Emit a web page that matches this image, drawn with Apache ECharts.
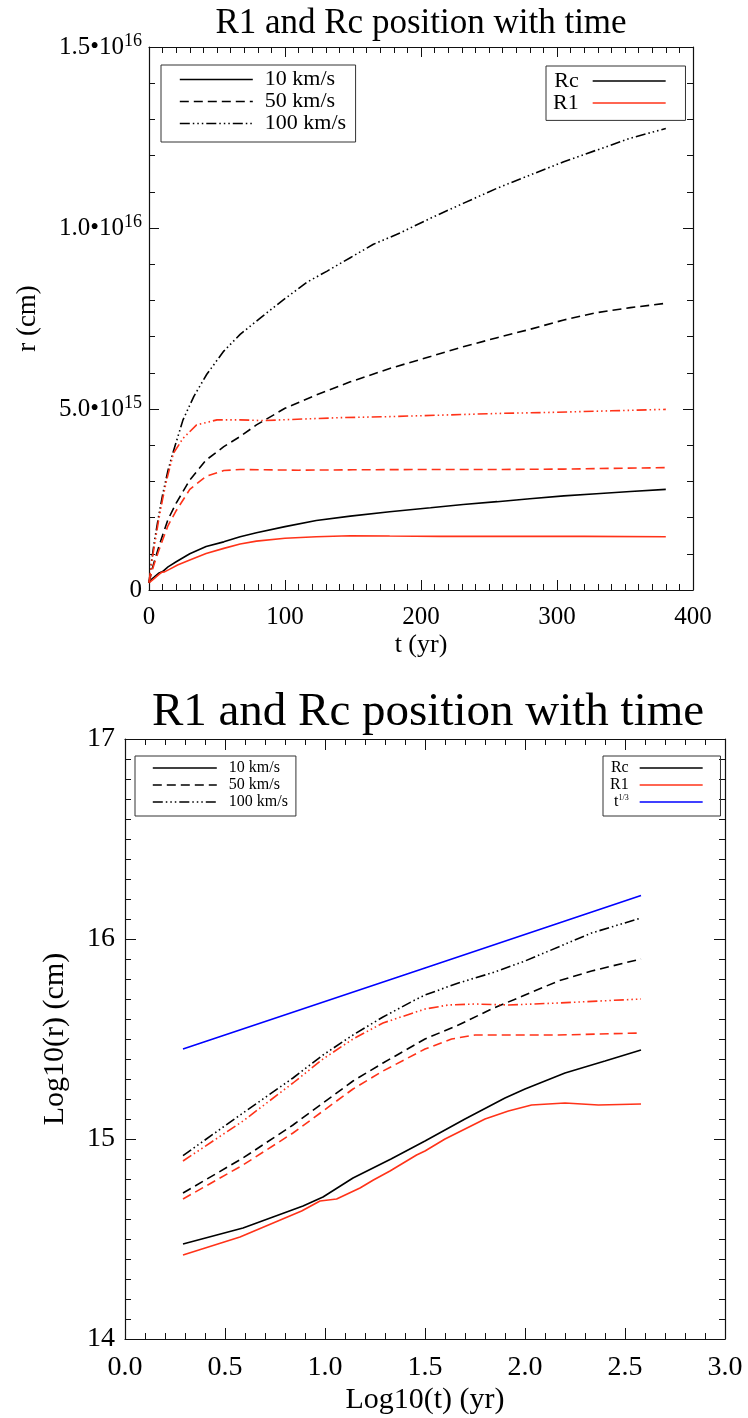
<!DOCTYPE html>
<html><head><meta charset="utf-8">
<script src="https://cdn.jsdelivr.net/npm/echarts@6/dist/echarts.min.js"></script>
<style>html,body{margin:0;padding:0;background:#fff}#c{width:748px;height:1418px}</style>
</head><body><div id="c"></div>
<script>
// ---------------- data ----------------
// Top panel: t (yr) vs r (units of 1e15 cm)
const tTopRc10  = [0,2,4,7,10,14,20,30,42,55,67,79,100,123,148,177,207,231,256,280,305,329,354,380];
const rTopRc10  = [0.2,0.30,0.36,0.46,0.51,0.64,0.78,1.00,1.20,1.33,1.47,1.58,1.75,1.92,2.04,2.16,2.27,2.36,2.44,2.52,2.60,2.66,2.72,2.78];
const tTopR110  = [0,2,4,7.6,9.4,11.4,15,21,30,42,55,67,79,100,123,148,177,214,260,320,380];
const rTopR110  = [0.2,0.26,0.32,0.44,0.49,0.50,0.57,0.69,0.83,1.01,1.15,1.27,1.35,1.43,1.47,1.50,1.49,1.48,1.48,1.48,1.47];
const tTopRc50  = [0,2,4,7,10,14,20,30,42,55,67,79,100,123,148,177,207,231,256,280,305,329,354,380];
const rTopRc50  = [0.2,0.54,0.80,1.17,1.51,1.95,2.40,3.04,3.59,3.96,4.24,4.56,5.02,5.39,5.75,6.12,6.45,6.72,6.97,7.20,7.46,7.66,7.80,7.92];
const tTopR150  = [0,2,4,7,10,14,20,30,42,55,67,85,110,150,207,260,305,340,380];
const rTopR150  = [0.2,0.50,0.74,1.07,1.38,1.78,2.19,2.78,3.14,3.30,3.33,3.32,3.31,3.32,3.33,3.33,3.34,3.36,3.38];
const tTopRc100 = [0,2,4,7,10,14,18,25,33,42.5,55,67,82,99,116,131,148,165,185,207,231,256,280,305,329,354,380];
const rTopRc100 = [0.2,0.83,1.35,2.02,2.63,3.31,3.84,4.70,5.35,5.96,6.60,7.06,7.52,8.02,8.50,8.81,9.18,9.55,9.87,10.27,10.68,11.10,11.46,11.83,12.15,12.48,12.75];
const tTopR1100 = [0,2,4,7,10,13,18,25,35,50,67,84,104,140,177,214,260,300,340,380];
const rTopR1100 = [0.2,0.78,1.23,1.91,2.51,3.04,3.78,4.19,4.56,4.70,4.70,4.68,4.71,4.76,4.79,4.83,4.88,4.91,4.95,4.99];

// Bottom panel: log10(t) vs log10(r)
const ltRc10  = [0.29,0.59,0.89,0.99,1.14,1.24,1.33,1.5,1.7,1.9,2.0,2.2,2.4,2.58];
const lrRc10  = [14.475,14.555,14.665,14.71,14.805,14.855,14.9,14.99,15.10,15.205,15.25,15.33,15.39,15.445];
const ltR110  = [0.29,0.575,0.883,0.975,1.058,1.175,1.242,1.325,1.458,1.5,1.6,1.7,1.8,1.917,2.033,2.2,2.367,2.58];
const lrR110  = [14.42,14.51,14.64,14.69,14.70,14.755,14.795,14.84,14.92,14.94,15.0,15.05,15.10,15.14,15.17,15.18,15.17,15.175];
const ltRc50  = [0.29,0.59,0.84,0.99,1.14,1.29,1.5,1.667,1.833,2.0,2.167,2.333,2.58];
const lrRc50  = [14.73,14.905,15.07,15.18,15.29,15.38,15.50,15.57,15.65,15.72,15.79,15.84,15.90];
const ltR150  = [0.29,0.59,0.84,0.99,1.14,1.29,1.5,1.633,1.75,1.917,2.167,2.58];
const lrR150  = [14.70,14.87,15.03,15.14,15.25,15.34,15.45,15.50,15.52,15.52,15.52,15.53];
const ltRc100 = [0.29,0.59,0.84,0.99,1.14,1.29,1.44,1.5,1.667,1.833,2.0,2.167,2.333,2.58];
const lrRc100 = [14.917,15.13,15.305,15.42,15.52,15.61,15.69,15.72,15.78,15.83,15.89,15.96,16.03,16.105];
const ltR1100 = [0.29,0.59,0.84,0.99,1.14,1.29,1.5,1.617,1.75,1.917,2.167,2.58];
const lrR1100 = [14.89,15.09,15.28,15.40,15.50,15.58,15.65,15.67,15.675,15.67,15.68,15.70];
const ltT13   = [0.29,1.5,2.58];
const lrT13   = [15.45,15.855,16.217];

// labels
const titleText = 'R1 and Rc position with time';
const velocityNames = ['10 km/s','50 km/s','100 km/s'];
const topYTickLabels = {0:'0', 5:'{m|5.0•10}{s|15}', 10:'{m|1.0•10}{s|16}', 15:'{m|1.5•10}{s|16}'};

// ---------------- style ----------------
const FONT = "'Liberation Serif','Times New Roman',serif";
const RED = '#ff3319', BLACK = '#000000', BLUE = '#0000ff';
const SOLID = 'solid', DASH = [9,5], DDD = [10,3,1.5,3,1.5,3,1.5,3];
const LW = 1.6;
const AX = '#111';

function pairs(xs, ys){ return xs.map((x,i)=>[x, ys[i]]); }
function line(name, xi, yi, data, color, type){
  return {name, type:'line', xAxisIndex:xi, yAxisIndex:yi, data, symbol:'none', silent:true,
    lineStyle:{color, width:LW, type, cap:'butt'}, itemStyle:{color}, animation:false};
}
function axis(o){
  const tick = {show:true, inside:true, length:o.tickLen, lineStyle:{color:AX, width:1}};
  return Object.assign({
    type:'value', splitLine:{show:false},
    axisLine:{show:true, onZero:false, lineStyle:{color:AX, width:1.2}},
    axisTick:tick,
    minorTick:{show:true, splitNumber:o.minor, length:o.minorLen, lineStyle:{color:AX, width:1}},
    axisLabel:{show:false}
  }, o.extra);
}
const legendCommon = {orient:'vertical', itemGap:0, itemHeight:10, borderColor:'#333', borderWidth:1,
  selectedMode:false, lineStyle:{width:LW},
  itemStyle:{color:'rgba(0,0,0,0)', borderColor:'rgba(0,0,0,0)', borderWidth:0, opacity:0}};

const option = {
  animation:false,
  backgroundColor:'#ffffff',
  grid:[
    {left:149, top:47, width:544, height:543},
    {left:125, top:739, width:600, height:600}
  ],
  xAxis:[
    axis({tickLen:10, minor:10, minorLen:6, extra:{gridIndex:0, position:'bottom', min:0, max:400, interval:100,
      axisLabel:{show:true, margin:15, fontSize:25, fontFamily:FONT, color:'#000'},
      name:'t (yr)', nameLocation:'middle', nameGap:42, nameTextStyle:{fontSize:26, fontFamily:FONT, color:'#000'}}}),
    axis({tickLen:10, minor:10, minorLen:6, extra:{gridIndex:0, position:'top', min:0, max:400, interval:100}}),
    axis({tickLen:11, minor:5, minorLen:6, extra:{gridIndex:1, position:'bottom', min:0, max:3, interval:0.5,
      axisLabel:{show:true, margin:15, fontSize:28, fontFamily:FONT, color:'#000', formatter:v=>v.toFixed(1)},
      name:'Log10(t) (yr)', nameLocation:'middle', nameGap:46, nameTextStyle:{fontSize:30, fontFamily:FONT, color:'#000'}}}),
    axis({tickLen:11, minor:5, minorLen:6, extra:{gridIndex:1, position:'top', min:0, max:3, interval:0.5}})
  ],
  yAxis:[
    axis({tickLen:10, minor:5, minorLen:6, extra:{gridIndex:0, position:'left', min:0, max:15, interval:5,
      axisLabel:{show:true, margin:7, fontSize:25, fontFamily:FONT, color:'#000',
        formatter:v=>topYTickLabels[v] ?? String(v),
        rich:{m:{fontSize:25, fontFamily:FONT, color:'#000', lineHeight:30},
              s:{fontSize:18, fontFamily:FONT, color:'#000', lineHeight:14, verticalAlign:'top'}}},
      name:'r (cm)', nameLocation:'middle', nameGap:108, nameTextStyle:{fontSize:27, fontFamily:FONT, color:'#000'}}}),
    axis({tickLen:10, minor:5, minorLen:6, extra:{gridIndex:0, position:'right', min:0, max:15, interval:5}}),
    axis({tickLen:11, minor:10, minorLen:6, extra:{gridIndex:1, position:'left', min:14, max:17, interval:1,
      axisLabel:{show:true, margin:10, fontSize:28, fontFamily:FONT, color:'#000'},
      name:'Log10(r) (cm)', nameLocation:'middle', nameGap:55, nameTextStyle:{fontSize:30, fontFamily:FONT, color:'#000'}}}),
    axis({tickLen:11, minor:10, minorLen:6, extra:{gridIndex:1, position:'right', min:14, max:17, interval:1}})
  ],
  legend:[
    Object.assign({}, legendCommon, {data:velocityNames, left:161, top:65, padding:[3.5,9.5,7.5,18], itemWidth:73,
     textStyle:{fontFamily:FONT, fontSize:22, color:'#000', lineHeight:19, padding:[0,0,0,7]}}),
    Object.assign({}, legendCommon, {data:['Rc','R1'], align:'right', left:546, top:66, padding:[4,19,6.4,7], itemWidth:73,
     textStyle:{fontFamily:FONT, fontSize:22, color:'#000', lineHeight:18.4, padding:[0,9,0,0]}}),
    Object.assign({}, legendCommon, {data:velocityNames, left:135, top:756, padding:[3.5,8,5.5,17], itemWidth:64,
     textStyle:{fontFamily:FONT, fontSize:16, color:'#000', lineHeight:17, padding:[0,0,0,7]}}),
    Object.assign({}, legendCommon, {data:['Rc','R1','t^1/3'], align:'right', left:603, top:756, padding:[3.5,17,5.5,7], itemWidth:63,
     formatter:n=> n==='t^1/3' ? '{b|t}{s|1/3}' : n,
     textStyle:{fontFamily:FONT, fontSize:16, color:'#000', lineHeight:17, padding:[0,6,0,0],
       rich:{b:{fontFamily:FONT, fontSize:16, color:'#000', lineHeight:17},
             s:{fontFamily:FONT, fontSize:8, color:'#000', lineHeight:10, verticalAlign:'top'}}}})
  ],
  graphic:[
    {type:'text', x:421, y:24, silent:true, style:{text:titleText, font:'35px '+FONT, fill:'#000',
      align:'center', verticalAlign:'middle', textAlign:'center', textVerticalAlign:'middle'}},
    {type:'text', x:428, y:713, silent:true, style:{text:titleText, font:'47px '+FONT, fill:'#000',
      align:'center', verticalAlign:'middle', textAlign:'center', textVerticalAlign:'middle'}}
  ],
  series:[
    // top panel
    line('Rc', 0, 0, pairs(tTopRc10, rTopRc10), BLACK, SOLID),
    line('R1', 0, 0, pairs(tTopR110, rTopR110), RED, SOLID),
    line('Rc', 0, 0, pairs(tTopRc50, rTopRc50), BLACK, DASH),
    line('R1', 0, 0, pairs(tTopR150, rTopR150), RED, DASH),
    line('Rc', 0, 0, pairs(tTopRc100, rTopRc100), BLACK, DDD),
    line('R1', 0, 0, pairs(tTopR1100, rTopR1100), RED, DDD),
    // bottom panel
    line('t^1/3', 2, 2, pairs(ltT13, lrT13), BLUE, SOLID),
    line('Rc', 2, 2, pairs(ltRc10, lrRc10), BLACK, SOLID),
    line('R1', 2, 2, pairs(ltR110, lrR110), RED, SOLID),
    line('Rc', 2, 2, pairs(ltRc50, lrRc50), BLACK, DASH),
    line('R1', 2, 2, pairs(ltR150, lrR150), RED, DASH),
    line('Rc', 2, 2, pairs(ltRc100, lrRc100), BLACK, DDD),
    line('R1', 2, 2, pairs(ltR1100, lrR1100), RED, DDD),
    // legend swatches for line styles (no data)
    line(velocityNames[0], 0, 0, [], BLACK, SOLID),
    line(velocityNames[1], 0, 0, [], BLACK, DASH),
    line(velocityNames[2], 0, 0, [], BLACK, DDD)
  ]
};
const chart = echarts.init(document.getElementById('c'), null, {renderer:'canvas'});
chart.setOption(option);
</script></body></html>
